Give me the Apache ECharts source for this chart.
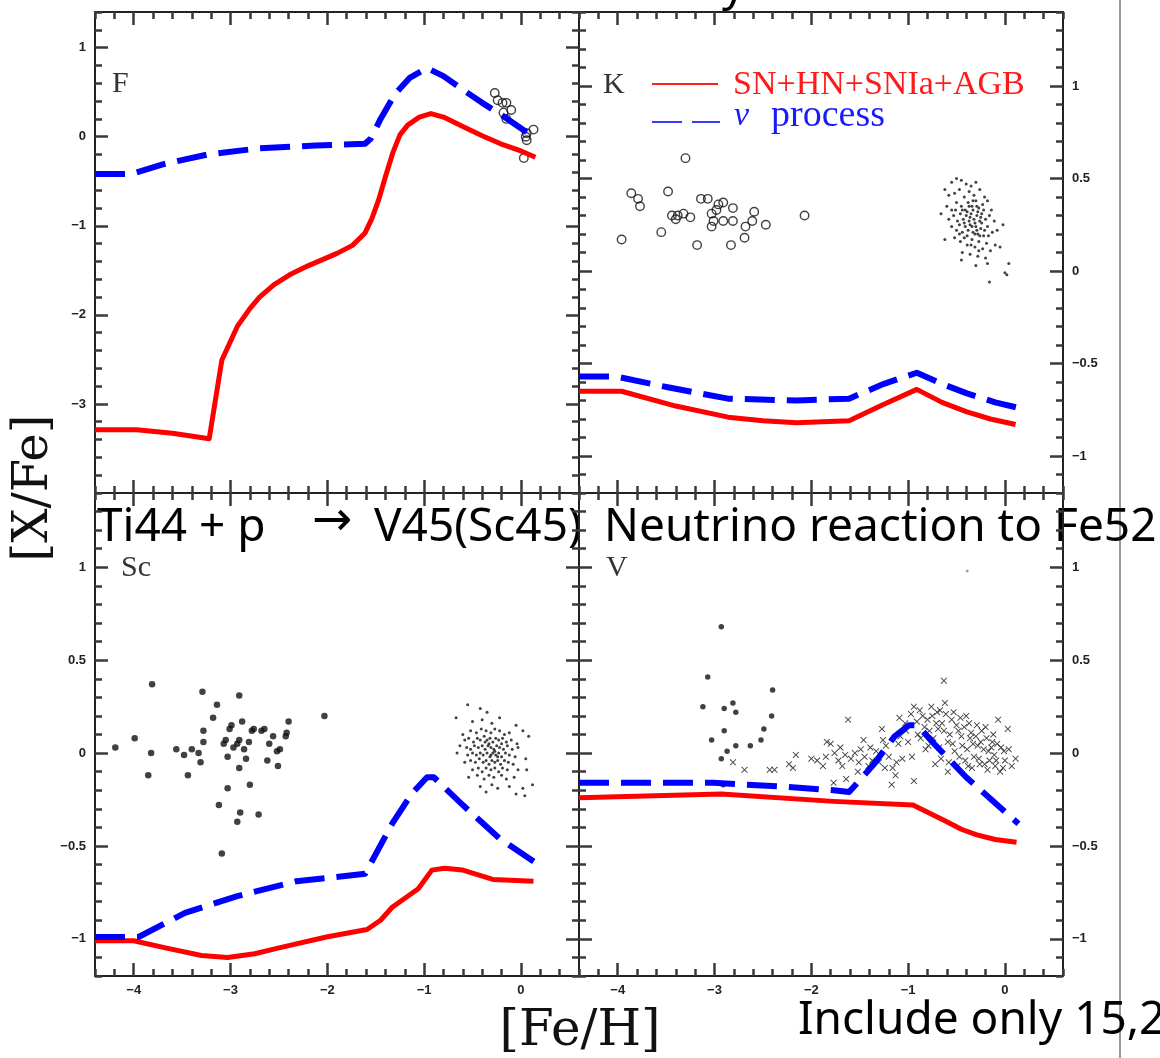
<!DOCTYPE html>
<html>
<head>
<meta charset="utf-8">
<script src="https://cdn.jsdelivr.net/npm/echarts@6/dist/echarts.min.js"></script>
<style>html,body{margin:0;padding:0;background:#fff}#c{width:1160px;height:1058px}</style>
</head>
<body>
<div id="c"></div>
<script>
// ---------------- DATA ----------------
const xMajorTicks = [-4, -3, -2, -1, 0];
const yMajorF = [-3, -2, -1, 0, 1];
const yMajorOther = [-1, -0.5, 0, 0.5, 1];
const panelNames = ['F', 'K', 'Sc', 'V'];

// F panel
const F_model = [[-4.40,-3.29],[-3.97,-3.29],[-3.60,-3.33],[-3.22,-3.39],[-3.09,-2.51],[-2.93,-2.13],[-2.80,-1.93],[-2.70,-1.80],[-2.55,-1.66],[-2.39,-1.55],[-2.20,-1.45],[-2.05,-1.38],[-1.90,-1.31],[-1.74,-1.22],[-1.61,-1.08],[-1.54,-0.92],[-1.47,-0.71],[-1.40,-0.45],[-1.32,-0.17],[-1.25,0.02],[-1.17,0.13],[-1.05,0.22],[-0.93,0.26],[-0.80,0.22],[-0.59,0.11],[-0.40,0.01],[-0.21,-0.08],[0.00,-0.16],[0.15,-0.23]];
const F_nu = [[-4.40,-0.42],[-4.03,-0.42],[-3.70,-0.31],[-3.24,-0.20],[-2.70,-0.13],[-2.12,-0.10],[-1.61,-0.08],[-1.55,-0.02],[-1.45,0.20],[-1.30,0.48],[-1.15,0.66],[-0.97,0.77],[-0.80,0.68],[-0.59,0.52],[-0.40,0.38],[-0.21,0.25],[0.10,0.02]];
const F_obs = [[-0.27,0.49],[-0.24,0.41],[-0.19,0.38],[-0.15,0.38],[-0.18,0.27],[-0.10,0.30],[-0.15,0.20],[0.13,0.08],[0.06,-0.04],[0.06,0.04],[0.03,-0.24],[0.05,0.00]];

// K panel
const K_model = [[-4.40,-0.65],[-3.96,-0.65],[-3.40,-0.73],[-2.86,-0.79],[-2.50,-0.81],[-2.15,-0.82],[-1.61,-0.81],[-1.25,-0.72],[-0.91,-0.64],[-0.65,-0.71],[-0.40,-0.76],[-0.15,-0.80],[0.11,-0.83]];
const K_nu = [[-4.40,-0.57],[-4.02,-0.57],[-3.47,-0.63],[-2.86,-0.69],[-2.15,-0.70],[-1.61,-0.69],[-1.25,-0.61],[-0.91,-0.55],[-0.65,-0.61],[-0.40,-0.66],[-0.10,-0.71],[0.14,-0.74]];
const K_halo = [[-3.96,0.17],[-3.86,0.42],[-3.79,0.39],[-3.77,0.35],[-3.55,0.21],[-3.48,0.43],[-3.30,0.61],[-3.44,0.30],[-3.38,0.30],[-3.32,0.31],[-3.25,0.29],[-3.18,0.14],[-3.14,0.39],[-3.07,0.39],[-3.03,0.31],[-3.01,0.27],[-2.96,0.36],[-2.91,0.27],[-2.91,0.37],[-2.83,0.14],[-2.81,0.34],[-2.81,0.27],[-2.69,0.18],[-2.68,0.24],[-2.61,0.27],[-2.59,0.32],[-2.47,0.25],[-2.07,0.30],[-3.03,0.24],[-2.98,0.33],[-3.40,0.28]];
const K_disk = [[-0.62,0.44],[-0.55,0.48],[-0.50,0.50],[-0.45,0.49],[-0.40,0.47],[-0.35,0.46],[-0.30,0.48],[-0.58,0.41],[-0.52,0.42],[-0.47,0.44],[-0.42,0.40],[-0.37,0.43],[-0.32,0.41],[-0.26,0.44],[-0.21,0.40],[-0.66,0.31],[-0.60,0.35],[-0.55,0.33],[-0.50,0.37],[-0.45,0.35],[-0.41,0.33],[-0.38,0.37],[-0.34,0.35],[-0.30,0.38],[-0.27,0.34],[-0.23,0.36],[-0.18,0.38],[-0.14,0.33],[-0.58,0.28],[-0.53,0.30],[-0.49,0.27],[-0.46,0.31],[-0.43,0.28],[-0.40,0.30],[-0.37,0.27],[-0.35,0.31],[-0.32,0.28],[-0.29,0.30],[-0.26,0.27],[-0.24,0.31],[-0.20,0.28],[-0.16,0.30],[-0.11,0.27],[-0.02,0.25],[-0.55,0.24],[-0.50,0.22],[-0.47,0.25],[-0.44,0.21],[-0.41,0.24],[-0.38,0.22],[-0.36,0.25],[-0.33,0.21],[-0.30,0.24],[-0.28,0.20],[-0.25,0.23],[-0.22,0.19],[-0.18,0.24],[-0.13,0.21],[-0.08,0.22],[-0.62,0.17],[-0.52,0.18],[-0.46,0.16],[-0.42,0.18],[-0.39,0.14],[-0.34,0.17],[-0.31,0.13],[-0.27,0.16],[-0.23,0.12],[-0.19,0.15],[-0.15,0.11],[-0.10,0.14],[-0.05,0.13],[-0.44,0.10],[-0.36,0.09],[-0.28,0.08],[-0.20,0.07],[-0.45,0.06],[-0.30,0.03],[-0.18,0.04],[0.02,-0.02],[-0.16,-0.06],[0.04,0.04],[0.00,-0.01],[-0.39,0.32],[-0.36,0.29],[-0.33,0.33],[-0.31,0.26],[-0.28,0.32],[-0.25,0.29],[-0.22,0.33],[-0.34,0.24],[-0.31,0.20],[-0.29,0.22],[-0.26,0.19],[-0.42,0.26],[-0.39,0.19],[-0.44,0.33],[-0.37,0.35],[-0.33,0.38],[-0.29,0.35],[-0.24,0.26],[-0.21,0.22],[-0.17,0.19],[-0.35,0.14],[-0.27,0.11],[-0.47,0.20],[-0.51,0.33]];

// Sc panel
const Sc_model = [[-4.40,-1.01],[-4.00,-1.01],[-3.66,-1.05],[-3.30,-1.09],[-3.03,-1.10],[-2.75,-1.08],[-2.51,-1.05],[-2.01,-0.99],[-1.59,-0.95],[-1.45,-0.90],[-1.33,-0.83],[-1.06,-0.73],[-0.92,-0.63],[-0.79,-0.62],[-0.60,-0.63],[-0.29,-0.68],[0.13,-0.69]];
const Sc_nu = [[-4.40,-0.99],[-3.95,-0.99],[-3.47,-0.86],[-2.93,-0.77],[-2.32,-0.69],[-1.61,-0.65],[-1.33,-0.38],[-1.13,-0.22],[-0.97,-0.13],[-0.90,-0.13],[-0.60,-0.28],[-0.22,-0.46],[0.15,-0.59]];
const Sc_halo = [[-4.19,0.03],[-3.99,0.08],[-3.82,0.00],[-3.81,0.37],[-3.85,-0.12],[-3.56,0.02],[-3.48,-0.01],[-3.44,-0.12],[-3.40,0.02],[-3.33,0.00],[-3.31,-0.05],[-3.29,0.33],[-3.28,0.12],[-3.28,0.06],[-3.18,0.19],[-3.14,0.26],[-3.12,-0.28],[-3.09,-0.54],[-3.07,0.05],[-3.05,0.07],[-3.03,-0.02],[-3.03,-0.19],[-3.01,0.13],[-2.99,0.15],[-2.97,0.03],[-2.93,0.05],[-2.91,0.07],[-2.91,-0.08],[-2.91,0.31],[-2.90,-0.32],[-2.93,-0.37],[-2.88,0.17],[-2.86,0.02],[-2.84,-0.03],[-2.81,0.06],[-2.80,-0.17],[-2.78,0.12],[-2.76,0.13],[-2.71,-0.33],[-2.68,0.12],[-2.65,0.13],[-2.62,-0.04],[-2.60,0.05],[-2.56,0.09],[-2.52,0.01],[-2.51,-0.07],[-2.49,0.02],[-2.43,0.09],[-2.42,0.11],[-2.40,0.17],[-2.03,0.20]];
const Sc_disk = [[-0.55,0.26],[-0.42,0.24],[-0.35,0.22],[-0.67,0.19],[-0.50,0.17],[-0.40,0.18],[-0.30,0.16],[-0.22,0.19],[-0.05,0.15],[0.02,0.12],[-0.60,0.10],[-0.52,0.12],[-0.46,0.11],[-0.41,0.13],[-0.36,0.12],[-0.31,0.11],[-0.27,0.13],[-0.22,0.12],[-0.17,0.10],[-0.12,0.11],[0.08,0.09],[-0.58,0.07],[-0.54,0.08],[-0.49,0.06],[-0.45,0.08],[-0.42,0.07],[-0.38,0.09],[-0.35,0.07],[-0.32,0.08],[-0.29,0.06],[-0.26,0.08],[-0.23,0.07],[-0.19,0.08],[-0.15,0.06],[-0.10,0.07],[-0.04,0.05],[-0.63,0.04],[-0.56,0.03],[-0.52,0.02],[-0.48,0.04],[-0.44,0.03],[-0.40,0.04],[-0.37,0.02],[-0.34,0.04],[-0.31,0.03],[-0.28,0.02],[-0.25,0.04],[-0.22,0.03],[-0.18,0.02],[-0.14,0.04],[-0.09,0.02],[-0.03,0.03],[-0.66,0.00],[-0.55,-0.01],[-0.50,0.00],[-0.46,-0.01],[-0.42,0.00],[-0.39,-0.01],[-0.35,0.00],[-0.32,-0.02],[-0.29,0.00],[-0.26,-0.01],[-0.23,0.00],[-0.20,-0.02],[-0.16,0.00],[-0.12,-0.01],[-0.06,-0.02],[-0.58,-0.05],[-0.52,-0.04],[-0.47,-0.05],[-0.43,-0.03],[-0.39,-0.05],[-0.36,-0.04],[-0.33,-0.06],[-0.30,-0.04],[-0.27,-0.05],[-0.24,-0.04],[-0.21,-0.06],[-0.17,-0.04],[-0.13,-0.05],[-0.08,-0.06],[0.05,-0.03],[-0.50,-0.09],[-0.44,-0.08],[-0.40,-0.10],[-0.36,-0.08],[-0.31,-0.09],[-0.27,-0.08],[-0.23,-0.10],[-0.19,-0.08],[-0.14,-0.09],[-0.03,-0.09],[0.06,-0.09],[-0.54,-0.13],[-0.45,-0.12],[-0.38,-0.14],[-0.33,-0.12],[-0.28,-0.13],[-0.20,-0.12],[-0.15,-0.14],[-0.07,-0.13],[-0.42,-0.18],[-0.30,-0.17],[-0.24,-0.19],[-0.12,-0.18],[0.02,-0.19],[0.12,-0.17],[-0.36,-0.21],[-0.05,-0.22],[0.04,-0.23],[-0.33,0.05],[-0.27,0.01],[-0.37,0.06],[-0.24,-0.02],[-0.31,-0.01],[-0.20,0.05]];

// V panel
const V_model = [[-4.40,-0.24],[-2.93,-0.22],[-1.77,-0.26],[-0.95,-0.28],[-0.60,-0.37],[-0.45,-0.41],[-0.29,-0.44],[-0.10,-0.465],[0.12,-0.48]];
const V_nu = [[-4.40,-0.16],[-3.01,-0.16],[-2.31,-0.18],[-1.77,-0.20],[-1.61,-0.21],[-1.37,-0.07],[-1.14,0.09],[-0.99,0.15],[-0.90,0.15],[-0.75,0.06],[-0.40,-0.13],[0.14,-0.38]];
const V_halo = [[-2.93,0.68],[-3.07,0.41],[-3.12,0.25],[-2.90,0.24],[-2.81,0.27],[-2.78,0.22],[-2.90,0.12],[-3.03,0.07],[-2.78,0.04],[-2.63,0.04],[-2.52,0.07],[-2.49,0.13],[-2.41,0.20],[-2.40,0.34],[-2.87,0.01],[-2.93,-0.03],[-2.91,-0.17]];
const V_disk = [[-2.81,-0.05],[-2.69,-0.09],[-2.43,-0.09],[-2.38,-0.09],[-2.23,-0.06],[-2.16,-0.01],[-2.19,-0.08],[-1.94,-0.04],[-1.88,-0.07],[-1.84,0.06],[-1.80,0.05],[-1.76,0.00],[-1.77,-0.16],[-1.72,-0.04],[-1.68,-0.07],[-1.64,-0.14],[-1.62,0.18],[-1.59,-0.03],[-1.55,0.00],[-1.51,-0.05],[-1.49,0.02],[-1.46,0.07],[-1.41,-0.07],[-1.37,-0.04],[-1.33,0.01],[-1.27,0.13],[-1.26,0.07],[-1.20,-0.02],[-1.17,-0.17],[-1.16,-0.08],[-1.13,-0.12],[-1.10,0.05],[-1.09,0.19],[-1.06,-0.03],[-1.02,0.12],[-1.00,0.06],[-0.96,-0.02],[-0.94,-0.15],[-0.94,0.25],[-0.91,0.17],[-0.87,0.08],[-0.83,0.14],[-0.79,0.04],[-0.75,0.20],[-0.71,0.16],[-0.67,0.23],[-0.63,0.39],[-0.63,0.12],[-0.59,0.06],[-0.59,-0.10],[-0.55,0.18],[-0.52,0.01],[-0.48,0.12],[-0.44,0.04],[-0.40,0.20],[-0.38,-0.07],[-0.36,0.08],[-0.32,-0.02],[-0.28,0.04],[-0.24,0.12],[-0.21,-0.06],[-0.17,0.01],[-0.13,0.06],[-0.09,-0.04],[-0.07,0.18],[-0.05,-0.10],[-0.01,0.01],[0.03,0.13],[0.07,-0.07],[0.11,-0.03],[-0.90,0.10],[-0.85,0.20],[-0.82,0.02],[-0.78,0.12],[-0.74,0.08],[-0.70,0.22],[-0.68,0.03],[-0.65,0.16],[-0.61,0.21],[-0.57,0.10],[-0.54,0.05],[-0.50,0.15],[-0.47,-0.02],[-0.45,0.09],[-0.42,0.14],[-0.39,0.02],[-0.35,0.11],[-0.33,0.05],[-0.30,0.09],[-0.27,-0.03],[-0.25,0.06],[-0.22,0.02],[-0.19,0.08],[-0.16,-0.04],[-0.14,0.03],[-0.11,-0.01],[-0.08,0.05],[-0.04,0.03],[0.00,-0.04],[0.04,0.02],[-0.72,-0.06],[-0.66,-0.03],[-0.58,-0.05],[-0.49,-0.07],[-0.41,-0.04],[-0.34,-0.08],[-0.26,-0.06],[-0.18,-0.09],[-0.10,-0.07],[-0.02,-0.08],[-1.45,-0.02],[-1.39,0.03],[-1.30,-0.05],[-1.23,0.04],[-1.52,-0.10],[-1.65,-0.01],[-1.70,0.03],[-1.85,-0.02],[-2.00,-0.03],[-1.03,0.16],[-0.97,0.21],[-0.88,0.23],[-0.80,0.18],[-0.76,0.25],[-0.69,0.13],[-0.62,0.27],[-0.53,0.22],[-0.46,0.19],[-0.37,0.16],[-0.29,0.15],[-0.20,0.14],[-0.12,0.10],[-1.12,-0.05],[-1.08,0.09],[-1.24,-0.08]];
const V_stray = [[-0.39,0.98]];

// ---------------- LAYOUT / STYLE ----------------
const X_MIN = -4.4, X_MAX = 0.6;
function ticksBetween(a, b, step){ const out = []; const n = Math.round((b - a) / step); for (let k = 0; k <= n; k++) out.push(+(a + k * step).toFixed(3)); return out; }
const panels = [
  {grid:{left:95, top:12, width:484, height:481}, yMin:-4, yMax:1.4, yStep:0.2, yMajor:yMajorF, ySide:'left', xLab:false},
  {grid:{left:579, top:12, width:484, height:481}, yMin:-1.2, yMax:1.4, yStep:0.1, yMajor:yMajorOther, ySide:'right', xLab:false},
  {grid:{left:95, top:493, width:484, height:483}, yMin:-1.2, yMax:1.4, yStep:0.1, yMajor:yMajorOther, ySide:'left', xLab:true},
  {grid:{left:579, top:493, width:484, height:483}, yMin:-1.2, yMax:1.4, yStep:0.1, yMajor:yMajorOther, ySide:'right', xLab:true}
];
function fmt(v){ v = Math.round(v*10)/10; return v < 0 ? '\u2212' + Math.abs(v) : String(v); }

const grids = [], xAxes = [], yAxes = [];
panels.forEach((p, i) => {
  grids.push({left:p.grid.left, top:p.grid.top, width:p.grid.width, height:p.grid.height, outerBoundsMode:'none', containLabel:false});
  ['bottom','top'].forEach(pos => {
    xAxes.push({gridIndex:i, type:'value', position:pos, min:X_MIN, max:X_MAX,
      axisLine:{show:true, onZero:false, lineStyle:{color:'#222', width:2}},
      axisTick:{show:true, inside:true, length:7, customValues:ticksBetween(X_MIN, X_MAX, 0.2), lineStyle:{color:'#3a3a3a', width:2.5}},
      axisLabel:{show:false}, splitLine:{show:false}});
    xAxes.push({gridIndex:i, type:'value', position:pos, min:X_MIN, max:X_MAX,
      axisLine:{show:false, onZero:false},
      axisTick:{show:true, inside:true, length:13, customValues:xMajorTicks.slice(), lineStyle:{color:'#3a3a3a', width:2.5}},
      axisLabel:(pos==='bottom' && p.xLab) ? {show:true, customValues:xMajorTicks.slice(), formatter:fmt, margin:8, color:'#222', fontFamily:'Liberation Sans', fontWeight:'bold', fontSize:13} : {show:false},
      splitLine:{show:false}});
  });
  ['left','right'].forEach(pos => {
    yAxes.push({gridIndex:i, type:'value', position:pos, min:p.yMin, max:p.yMax,
      axisLine:{show:true, onZero:false, lineStyle:{color:'#222', width:2}},
      axisTick:{show:true, inside:true, length:7, customValues:ticksBetween(p.yMin, p.yMax, p.yStep), lineStyle:{color:'#3a3a3a', width:2.5}},
      axisLabel:{show:false}, splitLine:{show:false}});
    yAxes.push({gridIndex:i, type:'value', position:pos, min:p.yMin, max:p.yMax,
      axisLine:{show:false, onZero:false},
      axisTick:{show:true, inside:true, length:13, customValues:p.yMajor.slice(), lineStyle:{color:'#3a3a3a', width:2.5}},
      axisLabel:(pos===p.ySide) ? {show:true, customValues:p.yMajor.slice(), formatter:fmt, margin:9, color:'#222', fontFamily:'Liberation Sans', fontWeight:'bold', fontSize:13} : {show:false},
      splitLine:{show:false}});
  });
});

const CROSS = 'path://M0,1L1,0L5,4L9,0L10,1L6,5L10,9L9,10L5,6L1,10L0,9L4,5Z';
function lineS(i, data, color, width, dashed){
  return {type:'line', xAxisIndex:4*i, yAxisIndex:4*i, data:data, showSymbol:false, symbol:'none',
    lineStyle:{color:color, width:width, type: dashed ? [30,12] : 'solid', cap:'butt', join:'round'}};
}
function scat(i, data, opts){
  return Object.assign({type:'scatter', xAxisIndex:4*i, yAxisIndex:4*i, data:data}, opts);
}
function openCircle(){ return {symbol:'circle', symbolSize:8.5, itemStyle:{color:'rgba(0,0,0,0)', borderColor:'#111', borderWidth:1.4}}; }
function bigDot(){ return {symbol:'circle', symbolSize:6.5, itemStyle:{color:'#111'}}; }
function tinyDot(){ return {symbol:'circle', symbolSize:3, itemStyle:{color:'#111'}}; }

const series = [
  scat(0, F_obs, openCircle()),
  lineS(0, F_model, '#ff0000', 5, false),
  lineS(0, F_nu, '#0000ff', 6, true),
  scat(1, K_halo, openCircle()),
  scat(1, K_disk, tinyDot()),
  lineS(1, K_model, '#ff0000', 5, false),
  lineS(1, K_nu, '#0000ff', 6, true),
  scat(2, Sc_halo, bigDot()),
  scat(2, Sc_disk, tinyDot()),
  lineS(2, Sc_model, '#ff0000', 5, false),
  lineS(2, Sc_nu, '#0000ff', 6, true),
  scat(3, V_halo, {symbol:'circle', symbolSize:5.5, itemStyle:{color:'#111'}}),
  scat(3, V_disk, {symbol:CROSS, symbolSize:6.5, itemStyle:{color:'#111'}}),
  scat(3, V_stray, {symbol:'circle', symbolSize:3, itemStyle:{color:'#888'}}),
  lineS(3, V_model, '#ff0000', 5, false),
  lineS(3, V_nu, '#0000ff', 6, true)
];

const serif = '"Liberation Serif", "DejaVu Serif", serif';
const sans = '"Noto Sans", "DejaVu Sans", sans-serif';
const panelLabelPos = [[112,84],[603,85],[121,568],[606,568]];
const graphics = [
  {type:'line', shape:{x1:1120, y1:0, x2:1120, y2:1058}, style:{stroke:'#9a9a9a', lineWidth:2}},
  // legend
  {type:'line', shape:{x1:652, y1:84, x2:718, y2:84}, style:{stroke:'#ff2020', lineWidth:2}},
  {type:'line', shape:{x1:652, y1:122, x2:720, y2:122}, style:{stroke:'#3a3aff', lineWidth:2, lineDash:[30,10]}},
  {type:'text', x:733, y:85, style:{text:'SN+HN+SNIa+AGB', fill:'#ff1a1a', font:'34px ' + serif, textAlign:'left', textVerticalAlign:'middle'}},
  {type:'text', x:734, y:116, style:{text:'\u03bd', fill:'#1a1aff', font:'italic 34px ' + serif, textAlign:'left', textVerticalAlign:'middle'}},
  {type:'text', x:771, y:116, style:{text:'process', fill:'#1a1aff', font:'38px ' + serif, textAlign:'left', textVerticalAlign:'middle'}},
  // axis titles
  {type:'text', x:35, y:488, rotation:Math.PI/2, style:{text:'[X/Fe]', fill:'#111', font:'48px "DejaVu Serif", serif', textAlign:'center', textVerticalAlign:'middle'}},
  {type:'text', x:580, y:1032, style:{text:'[Fe/H]', fill:'#111', font:'50px "DejaVu Serif", serif', textAlign:'center', textVerticalAlign:'middle'}},
  // overlay annotations
  {type:'text', x:97, y:528, style:{text:'Ti44 + p', fill:'#000', font:'46px ' + sans, textAlign:'left', textVerticalAlign:'middle'}},
  {type:'text', x:312, y:523, style:{text:'\u2192', fill:'#000', font:'48px "DejaVu Sans", sans-serif', textAlign:'left', textVerticalAlign:'middle'}},
  {type:'text', x:374, y:528, style:{text:'V45(Sc45)', fill:'#000', font:'46px ' + sans, textAlign:'left', textVerticalAlign:'middle'}},
  {type:'text', x:604, y:528, style:{text:'Neutrino reaction to Fe52', fill:'#000', font:'46px ' + sans, textAlign:'left', textVerticalAlign:'middle'}},
  {type:'text', x:798, y:1021, style:{text:'Include only 15,2', fill:'#000', font:'46px ' + sans, textAlign:'left', textVerticalAlign:'middle'}},
  {type:'text', x:722, y:-13, style:{text:'y', fill:'#000', font:'46px ' + sans, textAlign:'left', textVerticalAlign:'middle'}}
];
panelNames.forEach((n, i) => {
  graphics.push({type:'text', x:panelLabelPos[i][0], y:panelLabelPos[i][1], style:{text:n, fill:'#333', font:'30px ' + serif, textAlign:'left', textVerticalAlign:'middle'}});
});

const chart = echarts.init(document.getElementById('c'));
chart.setOption({
  animation:false,
  grid:grids, xAxis:xAxes, yAxis:yAxes, series:series,
  graphic:{elements:graphics}
});
</script>
</body>
</html>
